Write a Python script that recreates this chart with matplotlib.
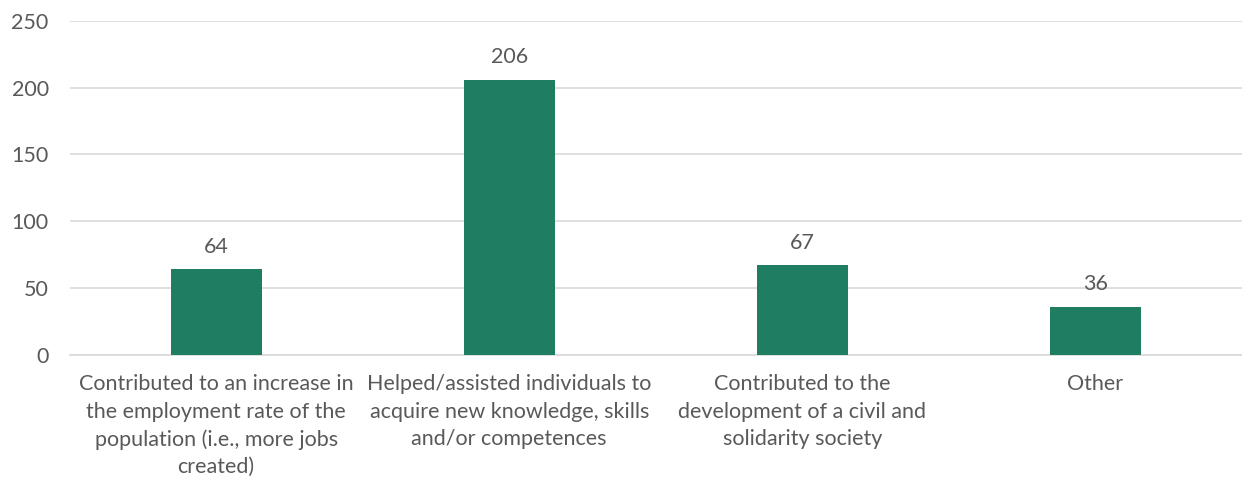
import numpy as np
import matplotlib
matplotlib.use('Agg')
import matplotlib.pyplot as plt

categories = ['Contributed to an increase in\nthe employment rate of the\npopulation (i.e., more jobs\ncreated)',
              'Helped/assisted individuals to\nacquire new knowledge, skills\nand/or competences',
              'Contributed to the\ndevelopment of a civil and\nsolidarity society',
              'Other']
counts = [64, 206, 67, 36]
yticks = [0, 50, 100, 150, 200, 250]

plt.rcParams['font.family'] = ['Lato', 'DejaVu Sans']
txt = '#595959'
bar_color = '#1F7D62'

fig = plt.figure(figsize=(12.42, 4.83), dpi=100)
ax = fig.add_axes([0.056, 0.265, 0.944, 0.692])

x = np.arange(len(categories))
ax.bar(x, counts, width=0.31, color=bar_color, zorder=3)
for xi, v in zip(x, counts):
    ax.annotate(str(v), (xi, v), xytext=(0, 9), textcoords='offset points',
                ha='center', va='bottom', fontsize=15.5, color=txt)

ax.set_xlim(-0.5, len(categories) - 0.5)
ax.set_ylim(0, 250)
ax.set_yticks(yticks)
ax.set_xticks(x)
ax.set_xticklabels(categories, fontsize=15.5, color=txt, linespacing=1.45)
ax.tick_params(axis='y', labelsize=15.5, labelcolor=txt, length=0, pad=15)
ax.tick_params(axis='x', length=0, pad=14)
ax.grid(axis='y', color='#D9D9D9', linewidth=1.2, zorder=0)
for s in ['top', 'right', 'left']:
    ax.spines[s].set_visible(False)
ax.spines['bottom'].set_color('#D9D9D9')
ax.spines['bottom'].set_linewidth(1.2)

fig.savefig('out.png', dpi=100)
